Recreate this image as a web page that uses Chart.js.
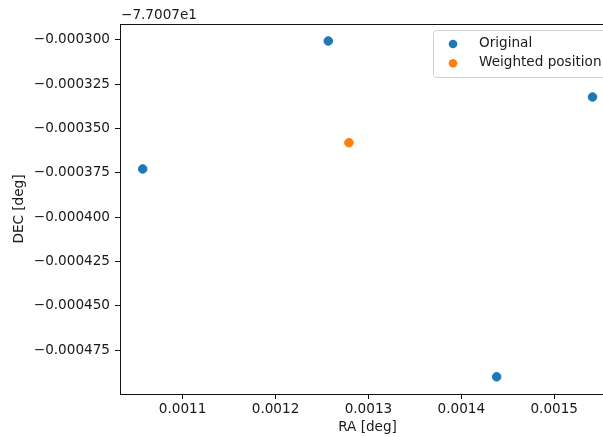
<!DOCTYPE html>
<html>
<head>
<meta charset="utf-8">
<script src="https://cdn.jsdelivr.net/npm/chart.js@4/dist/chart.umd.min.js"></script>
<style>
  html, body { margin: 0; padding: 0; background: #fff; }
  #wrap { width: 603px; height: 437px; overflow: hidden; position: relative; }
  #plot { position: absolute; left: 0; top: 0; }
</style>
</head>
<body>
<div id="wrap"><canvas id="plot" width="630" height="437"></canvas></div>
<script>
// offsets from -77.007 deg (the axis offset text)
const offsetText = '\u22127.7007e1';
const origRa = [0.001057, 0.0012568, 0.001438, 0.0015412];
const origDec = [-0.0003728, -0.0003006, -0.0004901, -0.0003322];
const weightedRa = [0.001279];
const weightedDec = [-0.000358];
const seriesNames = ['Original', 'Weighted position'];
const seriesColors = ['#1f77b4', '#ff7f0e'];

const fontFamily = '"DejaVu Sans", sans-serif';
const fontSize = 13.6;
const textColor = '#1a1a1a';

function toPoints(xs, ys) {
    return xs.map(function(x, i) { return { x: x, y: ys[i] }; });
}

function minusFormat(v, digits) {
    const s = Math.abs(v).toFixed(digits);
    return v < 0 ? '\u2212' + s : s;
}

// top spine, offset text and the in-axes legend
const axesExtras = {
    id: 'axesExtras',
    afterDraw(chart) {
        const ctx = chart.ctx;
        const area = chart.chartArea;
        ctx.save();
        ctx.strokeStyle = '#111';
        ctx.lineWidth = 1;
        ctx.beginPath();
        ctx.moveTo(area.left, area.top + 0.5);
        ctx.lineTo(area.right, area.top + 0.5);
        ctx.moveTo(area.right - 0.5, area.top);
        ctx.lineTo(area.right - 0.5, area.bottom);
        ctx.stroke();

        ctx.font = fontSize + 'px ' + fontFamily;
        ctx.fillStyle = textColor;
        ctx.textAlign = 'left';
        ctx.textBaseline = 'middle';
        ctx.fillText(offsetText, area.left + 1, 15);

        // legend box
        const bx = 433, by = 30, bw = 178, bh = 47;
        ctx.beginPath();
        ctx.roundRect(bx + 0.5, by + 0.5, bw, bh, 3);
        ctx.fillStyle = 'rgba(255,255,255,0.8)';
        ctx.fill();
        ctx.strokeStyle = '#d0d0d0';
        ctx.stroke();
        chart.data.datasets.forEach(function(ds, i) {
            const cy = 44 + i * 19.3;
            ctx.beginPath();
            ctx.arc(453, cy, 4.3, 0, Math.PI * 2);
            ctx.fillStyle = ds.backgroundColor;
            ctx.fill();
            ctx.fillStyle = textColor;
            ctx.fillText(ds.label, 479, cy - 1);
        });
        ctx.restore();
    }
};

new Chart('plot', {
    type: 'scatter',
    data: {
        datasets: [{
            label: seriesNames[0],
            data: toPoints(origRa, origDec),
            backgroundColor: seriesColors[0],
            borderColor: seriesColors[0],
            pointRadius: 4.3,
            pointHoverRadius: 4.3,
        }, {
            label: seriesNames[1],
            data: toPoints(weightedRa, weightedDec),
            backgroundColor: seriesColors[1],
            borderColor: seriesColors[1],
            pointRadius: 4.3,
            pointHoverRadius: 4.3,
        }]
    },
    options: {
        responsive: false,
        devicePixelRatio: 1,
        animation: false,
        layout: { padding: { left: 0, right: 15, top: 24, bottom: 0 } },
        plugins: {
            legend: { display: false },
            tooltip: { enabled: false },
        },
        scales: {
            x: {
                type: 'linear',
                position: 'bottom',
                min: 0.0010326,
                max: 0.0015654,
                afterFit(scale) { scale.height = 43; },
                border: { display: true, color: '#111', width: 1 },
                grid: { drawOnChartArea: false, drawTicks: true, tickLength: 5, color: '#111' },
                ticks: {
                    stepSize: 0.0001,
                    includeBounds: false,
                    autoSkip: false,
                    maxRotation: 0,
                    padding: 2,
                    color: textColor,
                    font: { family: fontFamily, size: fontSize },
                    callback: function(v) { return minusFormat(v, 4); }
                },
                title: {
                    display: true,
                    text: 'RA [deg]',
                    color: textColor,
                    font: { family: fontFamily, size: fontSize },
                    padding: { top: 0, bottom: 1 }
                }
            },
            y: {
                type: 'linear',
                min: -0.0004998,
                max: -0.000291,
                afterFit(scale) { scale.width = 120; },
                border: { display: true, color: '#111', width: 1 },
                grid: { drawOnChartArea: false, drawTicks: true, tickLength: 5, color: '#111' },
                ticks: {
                    stepSize: 0.000025,
                    includeBounds: false,
                    autoSkip: false,
                    padding: 5,
                    color: textColor,
                    font: { family: fontFamily, size: fontSize },
                    callback: function(v) { return minusFormat(v, 6); }
                },
                title: {
                    display: true,
                    text: 'DEC [deg]',
                    color: textColor,
                    font: { family: fontFamily, size: fontSize },
                    padding: { top: 11, bottom: 0 }
                }
            }
        }
    },
    plugins: [axesExtras]
});
</script>
</body>
</html>
